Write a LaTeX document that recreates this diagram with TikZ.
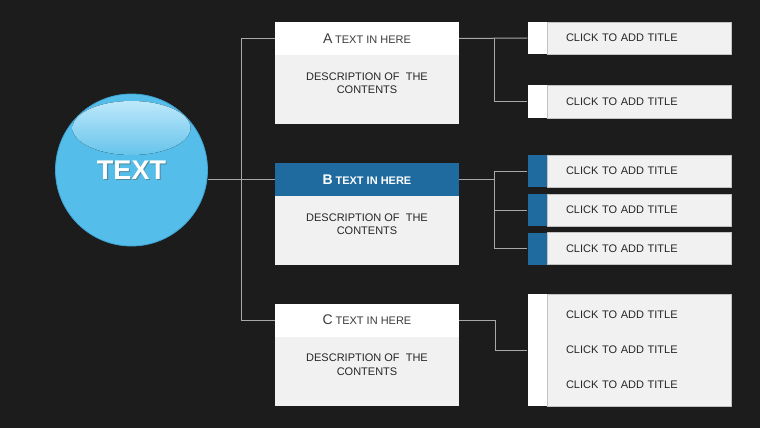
\documentclass[tikz,border=0pt]{standalone}
\usepackage{fontspec}
\setmainfont{Liberation Sans}
\usepackage{tikz}
\usetikzlibrary{positioning}
\definecolor{slideBg}{HTML}{1C1C1C}
\definecolor{boxGrey}{HTML}{F1F1F1}
\definecolor{headBlue}{HTML}{1F6A9E}
\definecolor{lineGrey}{HTML}{A8A8A8}
\definecolor{ballBlue}{HTML}{55BDE9}
\definecolor{ballEdge}{HTML}{3FA4D6}
\definecolor{ballGloss}{HTML}{BDE8FA}
\definecolor{headText}{HTML}{3C3C3C}

\begin{document}
\begin{tikzpicture}[x=1pt, y=-1pt,
    head/.style={rectangle, fill=white, minimum width=184pt, minimum height=33pt, inner sep=0pt, text=headText},
    body/.style={rectangle, fill=boxGrey, minimum width=184pt, minimum height=69pt, inner sep=0pt},
    desc/.style={align=center, font=\fontsize{11}{13.3}\selectfont, text=black!85, inner sep=0pt},
    tab/.style={rectangle, fill=boxGrey, draw=lineGrey!70, line width=0.6pt, minimum width=184pt, minimum height=32pt, text width=146pt, inner xsep=19pt, inner ysep=0pt, align=left, font=\fontsize{11}{35}\selectfont, text=black!85},
    strip/.style={rectangle, fill=white, minimum width=19pt, minimum height=32pt, inner sep=0pt},
    wire/.style={lineGrey, line width=1pt}
]
\fill[slideBg] (0,0) rectangle (760,428);
\useasboundingbox (0,0) rectangle (760,428);

% central ball
\node[circle, fill=ballBlue, draw=ballEdge, line width=0.8pt, minimum size=152pt, inner sep=0pt] (hub) at (131.5,170) {};
\fill[top color=ballGloss, bottom color=ballBlue!90!white] (131.5,128) ellipse (59pt and 27pt);
\node[font=\fontsize{27}{27}\selectfont\bfseries, text=black!70, opacity=0.45] (hubshadow) at ([xshift=1pt, yshift=-1.5pt]hub) {TEXT};
\node[font=\fontsize{27}{27}\selectfont\bfseries, text=white] (hubtext) at (hub) {TEXT};

% middle boxes
\node[head] (Ahead) at (367,38.5) {{\fontsize{14}{14}\selectfont A} {\fontsize{11}{11}\selectfont TEXT IN HERE}};
\node[body, below=0pt of Ahead] (Abody) {};
\node[desc] (Adesc) at ([yshift=-28pt]Ahead.south) {DESCRIPTION OF\ \ THE\\ CONTENTS};

\node[head, fill=headBlue, text=white] (Bhead) at (367,179.5) {\bfseries{\fontsize{14}{14}\selectfont B} {\fontsize{11}{11}\selectfont TEXT IN HERE}};
\node[body, below=0pt of Bhead] (Bbody) {};
\node[desc] (Bdesc) at ([yshift=-28pt]Bhead.south) {DESCRIPTION OF\ \ THE\\ CONTENTS};

\node[head] (Chead) at (367,320) {{\fontsize{14}{14}\selectfont C} {\fontsize{11}{11}\selectfont TEXT IN HERE}};
\node[body, below=0pt of Chead] (Cbody) {};
\node[desc] (Cdesc) at ([yshift=-28pt]Chead.south) {DESCRIPTION OF\ \ THE\\ CONTENTS};

% right tabs
\node[tab] (A1) at (639,38) {CLICK TO ADD TITLE};
\node[strip, left=0pt of A1] (A1s) {};
\node[tab, minimum height=33pt] (A2) at (639,101.5) {CLICK TO ADD TITLE};
\node[strip, minimum height=33pt, left=0pt of A2] (A2s) {};

\node[tab] (B1) at (639,171) {CLICK TO ADD TITLE};
\node[strip, fill=headBlue, left=0pt of B1] (B1s) {};
\node[tab] (B2) at (639,210) {CLICK TO ADD TITLE};
\node[strip, fill=headBlue, left=0pt of B2] (B2s) {};
\node[tab] (B3) at (639,248.5) {CLICK TO ADD TITLE};
\node[strip, fill=headBlue, left=0pt of B3] (B3s) {};

\node[tab, minimum height=112pt] (C1) at (639,350) {CLICK TO ADD TITLE\\ CLICK TO ADD TITLE\\ CLICK TO ADD TITLE};
\node[strip, minimum height=112pt, left=0pt of C1] (C1s) {};

% connectors
\draw[wire] (hub.east |- Bhead) -- (Bhead.west);
\coordinate (bus) at (241,0);
\draw[wire] (Ahead.west) -| (bus |- Chead) -- (Chead.west);

\draw[wire] (Ahead.east) -- (A1s.west);
\draw[wire] ([xshift=35pt]Ahead.east) |- (A2s.west);

\draw[wire] (Bhead.east) -- ++(35,0) coordinate (jB);
\draw[wire] (B1s.west) -| (jB) |- (B3s.west);
\draw[wire] (jB |- B2s.west) -- (B2s.west);

\draw[wire] (Chead.east) -- ++(36,0) |- (C1s.west);
\end{tikzpicture}
\end{document}
